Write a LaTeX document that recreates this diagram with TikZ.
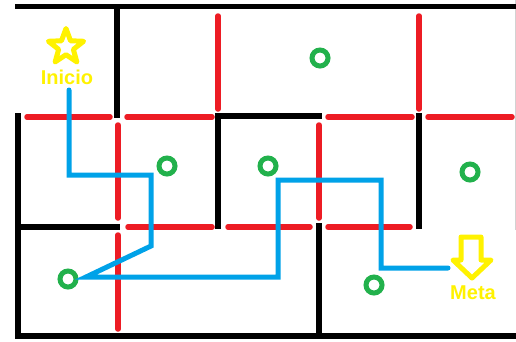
\documentclass[tikz,border=0pt]{standalone}
\usepackage{fontspec}
\setmainfont{Liberation Sans}
\usetikzlibrary{shapes.geometric}
\definecolor{paintred}{RGB}{237,28,36}
\definecolor{paintblue}{RGB}{0,162,232}
\definecolor{paintgreen}{RGB}{34,177,76}
\definecolor{paintyellow}{RGB}{255,242,0}
\begin{document}
\begin{tikzpicture}[x=1pt,y=-1pt,
    wall/.style={line width=5.5pt,black},
    door/.style={line width=5.5pt,paintred,line cap=round},
    route/.style={line width=5pt,paintblue,line cap=round},
    coin/.style={circle,draw=paintgreen,line width=5pt,minimum size=16pt,inner sep=0pt},
    tag/.style={text=paintyellow,font=\bfseries\fontsize{20}{24}\selectfont,inner sep=0pt}]
    \useasboundingbox (0,0) rectangle (516,341);
    \draw[gray!35,line width=0.8pt] (515.5,0)--(515.5,230);

    % paredes
    \draw[wall] (15,6.5)--(516,6.5);
    \draw[wall] (18,113)--(18,336)--(516,336);
    \draw[wall] (117,6.5)--(117,118);
    \draw[wall] (18,227)--(120,227);
    \draw[wall] (218,229)--(218,116)--(322,116);
    \draw[wall] (319,223)--(319,336);
    \draw[wall] (419,113)--(419,229);

    % puertas
    \foreach \a/\b in {27/110,127/212,328/412,428/512}
        \draw[door] (\a,117)--(\b,117);
    \foreach \a/\b in {128/212,228/310,328/410}
        \draw[door] (\a,227)--(\b,227);
    \draw[door] (218,16)--(218,109);
    \draw[door] (419,16)--(419,109);
    \draw[door] (118,125)--(118,218);
    \draw[door] (118,235)--(118,329);
    \draw[door] (319,125)--(319,218);

    % monedas
    \node[coin] (c1) at (320,58) {};
    \node[coin] (c2) at (167,166) {};
    \node[coin] (c3) at (268,166) {};
    \node[coin] (c4) at (470,172) {};
    \node[coin] (c5) at (68,279) {};
    \node[coin] (c6) at (374,285) {};

    % camino
    \draw[route] (69,90)--(69,175)--(151,175)--(151,246)--(86,277)--(278,277)
        --(278,180)--(381,180)--(381,268)--(448,268);

    \node[star,star points=5,star point ratio=2.4,draw=paintyellow,line width=5pt,
        line join=round,minimum size=37pt,inner sep=0pt] (estrella) at (66,47) {};
    \node[tag] (inicio) at (67,77.5) {Inicio};
    \draw[paintyellow,line width=5pt,line join=round]
        (461,237)--(481,237)--(481,260)--(491,260)--(472,278)--(453,260)--(461,260)--cycle;
    \node[tag] (meta) at (473,292.5) {Meta};
\end{tikzpicture}
\end{document}
